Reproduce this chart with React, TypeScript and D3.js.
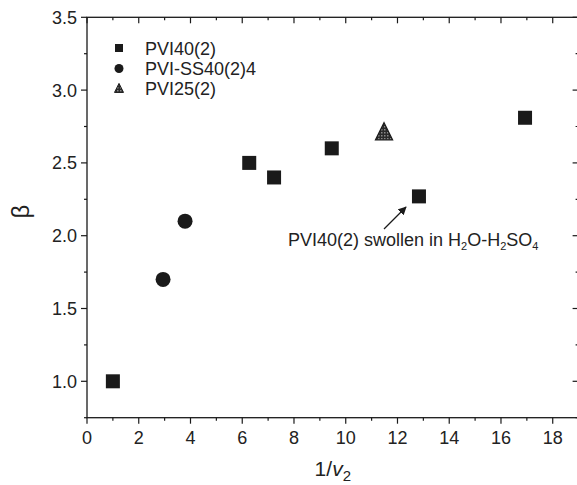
import React from "react";
import * as d3 from "d3";

const pvi40X = [1.0, 6.27, 7.23, 9.46, 12.83, 16.93];
const pvi40Y = [1.0, 2.5, 2.4, 2.6, 2.27, 2.81];
const ssX = [2.94, 3.79];
const ssY = [1.7, 2.1];
const pvi25X = [11.48];
const pvi25Y = [2.71];
const xTicks = [0, 2, 4, 6, 8, 10, 12, 14, 16, 18];
const yTicks = [1.0, 1.5, 2.0, 2.5, 3.0, 3.5];
const legendLabels = ["PVI40(2)", "PVI-SS40(2)4", "PVI25(2)"];

const W = 577, H = 485;
const L = 87, R = 578.6, T = 17.3, B = 417.7;
const FONT = "'Liberation Sans', Arial, sans-serif";

export default function App() {
  const x = d3.scaleLinear().domain([0, 19]).range([L, R]);
  const y = d3.scaleLinear().domain([0.75, 3.5]).range([B, T]);
  const xMinor = d3.range(0, 20, 1);
  const yMinor = d3.range(0.75, 3.51, 0.25);
  const tri = (cx: number, cy: number, s: number) =>
    `M${cx},${cy - s * 0.62} L${cx + s / 2},${cy + s * 0.38} L${cx - s / 2},${cy + s * 0.38} Z`;
  const col = "#1a1a1a";
  return (
    <svg width={W} height={H} style={{ position: "absolute", left: 0, top: 0, background: "#fff" }} fontFamily={FONT}>
      <defs>
        <pattern id="hatch" width="3" height="3" patternUnits="userSpaceOnUse">
          <rect width="3" height="3" fill="#2a2a2a" />
          <rect width="1.5" height="1.5" fill="#888" />
        </pattern>
        <marker id="arr" viewBox="0 0 10 10" refX="9" refY="5" markerWidth="7" markerHeight="7" orient="auto">
          <path d="M0,0 L10,5 L0,10 Z" fill={col} />
        </marker>
      </defs>
      <rect x={L} y={T} width={R - L} height={B - T} fill="none" stroke={col} strokeWidth={1.3} />
      {xMinor.map((v) => {
        const major = v % 2 === 0;
        const len = major ? 6 : 3;
        return (
          <g key={"xt" + v}>
            <line x1={x(v)} x2={x(v)} y1={B} y2={B + len} stroke={col} strokeWidth={1.2} />
            <line x1={x(v)} x2={x(v)} y1={T} y2={T + len} stroke={col} strokeWidth={1.2} />
          </g>
        );
      })}
      {yMinor.map((v) => {
        const major = Math.abs(v * 2 - Math.round(v * 2)) < 1e-6;
        const len = major ? 6 : 3;
        return (
          <g key={"yt" + v}>
            <line x1={L} x2={L - len} y1={y(v)} y2={y(v)} stroke={col} strokeWidth={1.2} />
            <line x1={R} x2={R - len} y1={y(v)} y2={y(v)} stroke={col} strokeWidth={1.2} />
          </g>
        );
      })}
      {xTicks.map((v) => (
        <text key={"xl" + v} x={x(v)} y={B + 26} fontSize={18} textAnchor="middle" fill="#222">{v}</text>
      ))}
      {yTicks.map((v) => (
        <text key={"yl" + v} x={L - 10} y={y(v) + 6.5} fontSize={18} textAnchor="end" fill="#222">{v.toFixed(1)}</text>
      ))}
      <text transform={`translate(29,${(T + B) / 2 - 6}) rotate(-90)`} fontSize={24} textAnchor="middle" fill="#222">β</text>
      <text x={(L + R) / 2} y={476} fontSize={21} textAnchor="middle" fill="#222">
        1/<tspan fontStyle="italic">v</tspan><tspan dy={5} fontSize={15}>2</tspan>
      </text>
      {pvi40X.map((v, i) => (
        <rect key={"s" + i} x={x(v) - 7} y={y(pvi40Y[i]) - 7} width={14} height={14} fill={col} />
      ))}
      {ssX.map((v, i) => (
        <circle key={"c" + i} cx={x(v)} cy={y(ssY[i])} r={7.5} fill={col} />
      ))}
      {pvi25X.map((v, i) => (
        <path key={"t" + i} d={tri(x(v), y(pvi25Y[i]) + 1, 17)} fill="url(#hatch)" stroke={col} strokeWidth={1.3} />
      ))}
      <g fontSize={18} fill="#222">
        <rect x={115} y={44} width={8} height={8} fill={col} />
        <text x={145} y={54.5}>{legendLabels[0]}</text>
        <circle cx={119} cy={68.5} r={4.5} fill={col} />
        <text x={145} y={74.5}>{legendLabels[1]}</text>
        <path d={tri(119, 89, 9)} fill="url(#hatch)" stroke={col} strokeWidth={1} />
        <text x={145} y={94.5}>{legendLabels[2]}</text>
      </g>
      <line x1={384} y1={229} x2={406} y2={207} stroke={col} strokeWidth={1.2} markerEnd="url(#arr)" />
      <text x={288} y={246} fontSize={18} fill="#222">
        PVI40(2) swollen in H<tspan dy={4} fontSize={11}>2</tspan><tspan dy={-4}>O-H</tspan>
        <tspan dy={4} fontSize={11}>2</tspan><tspan dy={-4}>SO</tspan><tspan dy={4} fontSize={11}>4</tspan>
      </text>
    </svg>
  );
}
